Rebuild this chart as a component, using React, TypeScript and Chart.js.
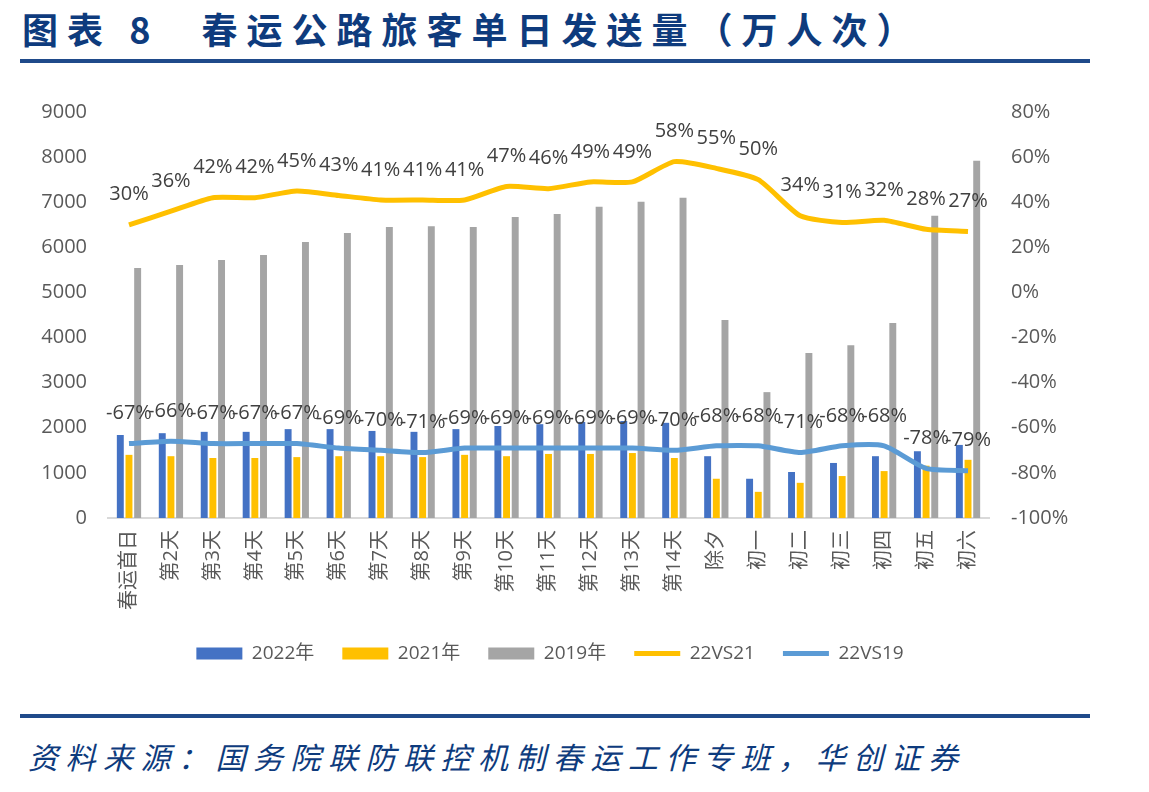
import React, { useEffect, useRef } from "react";
import { Chart, registerables } from "chart.js";

Chart.register(...registerables);

// Days of the Spring Festival travel rush
const categories = [
  "春运首日", "第2天", "第3天", "第4天", "第5天", "第6天", "第7天", "第8天", "第9天",
  "第10天", "第11天", "第12天", "第13天", "第14天", "除夕", "初一", "初二", "初三",
  "初四", "初五", "初六",
];

// Daily highway passenger trips (10k person-trips)
const trips2022 = [1840, 1880, 1910, 1910, 1970, 1970, 1930, 1910, 1970, 2040, 2080, 2130, 2150, 2110, 1370, 870, 1020, 1220, 1370, 1480, 1620];
const trips2021 = [1400, 1370, 1330, 1330, 1350, 1370, 1370, 1350, 1400, 1370, 1420, 1420, 1440, 1330, 870, 580, 780, 930, 1040, 1160, 1290];
const trips2019 = [5540, 5610, 5720, 5830, 6120, 6320, 6450, 6470, 6450, 6670, 6740, 6900, 7010, 7100, 4390, 2790, 3660, 3830, 4320, 6700, 7920];

// Year-over-year change (%)
const vs21 = [30, 36, 42, 42, 45, 43, 41, 41, 41, 47, 46, 49, 49, 58, 55, 50, 34, 31, 32, 28, 27];
const vs19 = [-67, -66, -67, -67, -67, -69, -70, -71, -69, -69, -69, -69, -69, -70, -68, -68, -71, -68, -68, -78, -79];

const leftTicks = [0, 1000, 2000, 3000, 4000, 5000, 6000, 7000, 8000, 9000];
const rightTicks = [-100, -80, -60, -40, -20, 0, 20, 40, 60, 80];

const FONT = "'Open Sans', 'Noto Sans CJK SC', sans-serif";
const TICK_COLOR = "#595959";

// Percentage labels above each point of the line series
const lineLabels = {
  id: "lineLabels",
  afterDatasetsDraw(chart: any) {
    const ctx = chart.ctx;
    ctx.save();
    ctx.font = `20px ${FONT}`;
    ctx.fillStyle = "#404040";
    ctx.textAlign = "center";
    ctx.textBaseline = "middle";
    chart.data.datasets.forEach((ds: any, i: number) => {
      if (ds.type !== "line") return;
      const meta = chart.getDatasetMeta(i);
      meta.data.forEach((pt: any, j: number) => {
        ctx.fillText(`${ds.data[j]}%`, pt.x, pt.y - 30);
      });
    });
    ctx.restore();
  },
};

function TravelChart() {
  const ref = useRef<HTMLCanvasElement | null>(null);

  useEffect(() => {
    if (!ref.current) return;
    const chart = new Chart(ref.current, {
      type: "bar",
      data: {
        labels: categories,
        datasets: [
          { type: "bar", label: "2022年", data: trips2022, backgroundColor: "#4472C4", yAxisID: "y", order: 1, pointStyle: "rect" },
          { type: "bar", label: "2021年", data: trips2021, backgroundColor: "#FFC000", yAxisID: "y", order: 1, pointStyle: "rect" },
          { type: "bar", label: "2019年", data: trips2019, backgroundColor: "#A5A5A5", yAxisID: "y", order: 1, pointStyle: "rect" },
          { type: "line", label: "22VS21", data: vs21, borderColor: "#FFC000", backgroundColor: "#FFC000", borderWidth: 5, pointRadius: 0, tension: 0.2, yAxisID: "y1", order: 0, pointStyle: "line" },
          { type: "line", label: "22VS19", data: vs19, borderColor: "#5B9BD5", backgroundColor: "#5B9BD5", borderWidth: 5, pointRadius: 0, tension: 0.2, yAxisID: "y1", order: 0, pointStyle: "line" },
        ] as any,
      },
      options: {
        animation: false,
        responsive: false,
        maintainAspectRatio: false,
        layout: { padding: { top: 8, bottom: 17, left: 0, right: 0 } },
        datasets: { bar: { categoryPercentage: 0.62, barPercentage: 0.8 } },
        plugins: {
          tooltip: { enabled: false },
          legend: {
            position: "bottom",
            labels: {
              usePointStyle: true,
              pointStyleWidth: 46,
              boxHeight: 12,
              padding: 28,
              color: TICK_COLOR,
              font: { family: FONT, size: 19 },
              sort: (a: any, b: any) => a.datasetIndex - b.datasetIndex,
            },
          },
        },
        scales: {
          x: {
            grid: { display: false, drawTicks: false },
            border: { display: true, color: "#D9D9D9", width: 2 },
            ticks: {
              color: TICK_COLOR,
              font: { family: FONT, size: 20 },
              minRotation: 90,
              maxRotation: 90,
              padding: 12,
              autoSkip: false,
            },
            afterFit: (s: any) => { s.height = 98; },
          },
          y: {
            position: "left",
            min: leftTicks[0],
            max: leftTicks[leftTicks.length - 1],
            afterBuildTicks: (s: any) => { s.ticks = leftTicks.map((v) => ({ value: v })); },
            grid: { display: false, drawTicks: false },
            border: { display: false },
            ticks: { color: TICK_COLOR, font: { family: FONT, size: 20 }, padding: 21, callback: (v: any) => `${v}` },
            afterFit: (s: any) => { s.width = 108; },
          },
          y1: {
            position: "right",
            min: rightTicks[0],
            max: rightTicks[rightTicks.length - 1],
            afterBuildTicks: (s: any) => { s.ticks = rightTicks.map((v) => ({ value: v })); },
            grid: { display: false, drawTicks: false },
            border: { display: false },
            ticks: { color: TICK_COLOR, font: { family: FONT, size: 20 }, padding: 22, callback: (v: any) => `${v}%` },
            afterFit: (s: any) => { s.width = 111; },
          },
        },
      },
      plugins: [lineLabels],
    });
    return () => chart.destroy();
  }, []);

  return <canvas ref={ref} width={1100} height={612} style={{ position: "absolute", left: 0, top: 78, width: 1100, height: 612 }} />;
}

export default function App() {
  const navy = "#0E3B7D";
  return (
    <div style={{ position: "fixed", left: 0, top: 0, width: 1149, height: 792, background: "#fff", overflow: "hidden" }}>
      <div
        style={{
          position: "absolute", left: 22, top: 10, color: navy, whiteSpace: "nowrap", lineHeight: "36px",
          fontFamily: "'Noto Sans CJK SC', sans-serif", fontWeight: 700, fontSize: 36, letterSpacing: 9,
        }}
      >
        图表 8<span style={{ display: "inline-block", width: 42 }} />春运公路旅客单日发送量（万人次）
      </div>
      <div style={{ position: "absolute", left: 20, top: 59, width: 1070, height: 4, background: "#1F4A8A" }} />
      <TravelChart />
      <div style={{ position: "absolute", left: 20, top: 714, width: 1070, height: 4, background: "#1F4A8A" }} />
      <div
        style={{
          position: "absolute", left: 28, top: 740, color: navy, whiteSpace: "nowrap", lineHeight: "32px",
          fontFamily: "'Noto Sans CJK SC', sans-serif", fontStyle: "italic", fontSize: 30, letterSpacing: 7.5,
        }}
      >
        资料来源：国务院联防联控机制春运工作专班，华创证券
      </div>
    </div>
  );
}
